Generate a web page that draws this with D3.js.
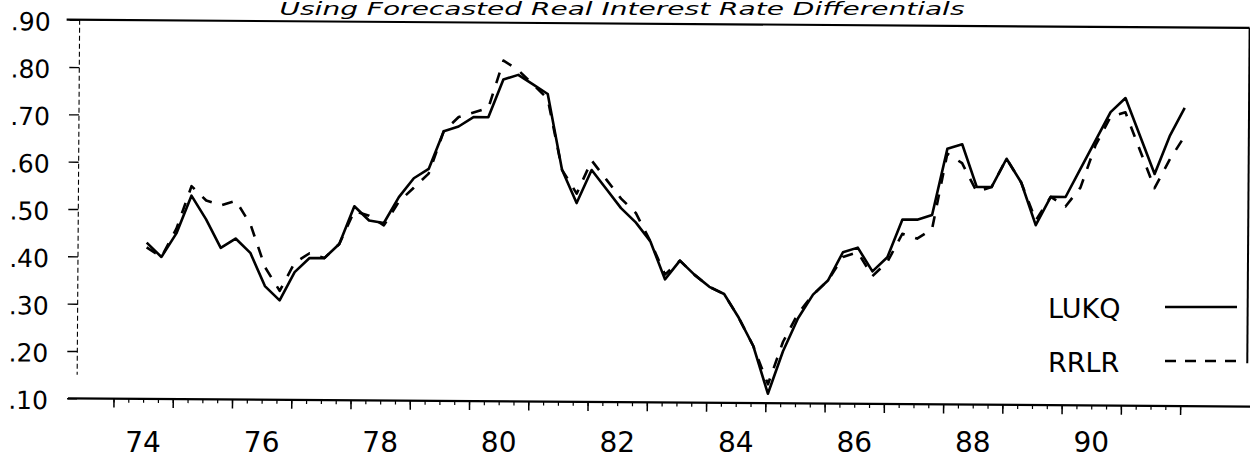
<!DOCTYPE html>
<html>
<head>
<meta charset="utf-8">
<script src="https://cdn.jsdelivr.net/npm/d3@7"></script>
<style>
  html, body { margin: 0; padding: 0; background: #ffffff; }
  svg { display: block; }
  text { font-family: "DejaVu Sans", "Liberation Sans", sans-serif; fill: #000; }
</style>
</head>
<body>
<svg id="chart" width="1250" height="458"></svg>
<script>
// ---------------- data ----------------
const titleText = "Using Forecasted Real Interest Rate Differentials";
const seriesNames = ["LUKQ", "RRLR"];
const firstYear = 1974;
const firstQuarter = 3;   // 1974 Q3 ... 1992 Q1 (quarterly)

const lukq = [
  0.43, 0.40,
  0.45, 0.53, 0.48, 0.42,
  0.44, 0.41, 0.34, 0.31,
  0.37, 0.40, 0.40, 0.43,
  0.51, 0.48, 0.475, 0.53,
  0.57, 0.59, 0.67, 0.68,
  0.70, 0.70, 0.78, 0.79,
  0.77, 0.75, 0.59, 0.52,
  0.59, 0.55, 0.51, 0.48,
  0.44, 0.36, 0.40, 0.37,
  0.345, 0.33, 0.28, 0.22,
  0.12, 0.21, 0.28, 0.33,
  0.36, 0.42, 0.43, 0.38,
  0.41, 0.49, 0.49, 0.50,
  0.64, 0.65, 0.56, 0.56,
  0.62, 0.57, 0.48, 0.54,
  0.54, 0.60, 0.66, 0.72,
  0.75, 0.67, 0.59, 0.67,
  0.73
];

const rrlr = [
  0.42, 0.40,
  0.46, 0.55, 0.52, 0.51,
  0.52, 0.47, 0.38, 0.33,
  0.39, 0.41, 0.40, 0.43,
  0.50, 0.49, 0.47, 0.52,
  0.55, 0.58, 0.67, 0.70,
  0.71, 0.72, 0.82, 0.80,
  0.77, 0.74, 0.59, 0.54,
  0.61, 0.57, 0.53, 0.50,
  0.44, 0.37, 0.40, 0.37,
  0.345, 0.33, 0.28, 0.22,
  0.14, 0.23, 0.29, 0.33,
  0.36, 0.41, 0.42, 0.37,
  0.40, 0.46, 0.45, 0.47,
  0.63, 0.61, 0.55, 0.56,
  0.62, 0.57, 0.49, 0.54,
  0.52, 0.56, 0.65, 0.71,
  0.72, 0.64, 0.56, 0.62,
  0.67
];

const yTickValues = [0.10, 0.20, 0.30, 0.40, 0.50, 0.60, 0.70, 0.80, 0.90];
const xLabelYears = [1974, 1976, 1978, 1980, 1982, 1984, 1986, 1988, 1990];
const xLabelText  = ["74", "76", "78", "80", "82", "84", "86", "88", "90"];
const yearTicks = d3.range(1974, 1993);
const quarterTicks = d3.range(1974, 1992.01, 0.25);

// ---------------- build ----------------
const svg = d3.select("#chart");

const x = d3.scaleLinear().domain([1974, 1992]).range([113.5, 113.5 + 18 * 59.26]);
const y = d3.scaleLinear().domain([0.10, 0.90]).range([398.3, 19.7]);

// quarterly time positions (mid of first month of quarter)
const tOf = i => {
  const q = firstQuarter - 1 + i;
  return firstYear + Math.floor(q / 4) + (q % 4) / 4 + 1 / 24;
};
const dataL = lukq.map((v, i) => ({ t: tOf(i), v }));
const dataR = rrlr.map((v, i) => ({ t: tOf(i), v }));

// title
svg.append("text")
  .attr("x", 622).attr("y", 14.5)
  .attr("text-anchor", "middle")
  .attr("font-size", 17)
  .attr("font-style", "italic")
  .attr("textLength", 685)
  .attr("lengthAdjust", "spacingAndGlyphs")
  .text(titleText);

// slightly rotated plotting group (scan skew)
const g = svg.append("g").attr("transform", "rotate(0.4, 70, 398)");

// y axis ticks + labels
const yAxis = d3.axisLeft(y)
  .tickValues(yTickValues)
  .tickSize(10)
  .tickPadding(19)
  .tickFormat(d => d3.format(".2f")(d).replace(/^0/, ""));
const ya = g.append("g").attr("transform", "translate(77,0)").call(yAxis);
ya.select(".domain").remove();
ya.selectAll(".tick line").attr("stroke", "#000").attr("stroke-width", 1.4);
ya.selectAll(".tick text")
  .attr("font-size", 25)
  .attr("font-family", "DejaVu Sans, sans-serif")
  .attr("dy", "0.42em");

// dotted left axis line
g.append("line")
  .attr("x1", 77).attr("x2", 77)
  .attr("y1", y(0.90)).attr("y2", y(0.15))
  .attr("stroke", "#000").attr("stroke-width", 1.1)
  .attr("stroke-dasharray", "5,3");

// top border
g.append("line")
  .attr("x1", 64).attr("x2", 1247)
  .attr("y1", y(0.90)).attr("y2", y(0.90))
  .attr("stroke", "#000").attr("stroke-width", 2.2);

// right border
g.append("line")
  .attr("x1", 1247).attr("x2", 1247)
  .attr("y1", y(0.90)).attr("y2", 355)
  .attr("stroke", "#000").attr("stroke-width", 2);

// bottom axis with yearly and quarterly ticks
const xMinor = d3.axisBottom(x).tickValues(quarterTicks).tickSize(4).tickFormat("");
const xMajor = d3.axisBottom(x).tickValues(yearTicks).tickSize(9).tickFormat("");
const xm = g.append("g").attr("transform", `translate(0,${y(0.10)})`).call(xMinor);
xm.select(".domain").remove();
xm.selectAll(".tick line").attr("stroke", "#000").attr("stroke-width", 1.2);
const xM = g.append("g").attr("transform", `translate(0,${y(0.10)})`).call(xMajor);
xM.select(".domain").remove();
xM.selectAll(".tick line").attr("stroke", "#000").attr("stroke-width", 1.5);
g.append("line")
  .attr("x1", 68).attr("x2", 1256)
  .attr("y1", y(0.10)).attr("y2", y(0.10))
  .attr("stroke", "#000").attr("stroke-width", 2.2);

// series lines
const line = d3.line().x(d => x(d.t)).y(d => y(d.v));
g.append("path").datum(dataR)
  .attr("d", line)
  .attr("fill", "none").attr("stroke", "#000")
  .attr("stroke-width", 2.6)
  .attr("stroke-dasharray", "11,11")
  .attr("stroke-linejoin", "round");
g.append("path").datum(dataL)
  .attr("d", line)
  .attr("fill", "none").attr("stroke", "#000")
  .attr("stroke-width", 2.6)
  .attr("stroke-linejoin", "round");

// x labels (centred in the middle of each labelled year)
svg.selectAll("text.xlab").data(xLabelYears)
  .enter().append("text")
  .attr("class", "xlab")
  .attr("x", d => x(d + 0.5))
  .attr("y", 452)
  .attr("text-anchor", "middle")
  .attr("font-size", 28)
  .text((d, i) => xLabelText[i]);

// legend
const legendRows = [
  { name: seriesNames[0], ty: 318, ly: 307, dash: null },
  { name: seriesNames[1], ty: 372, ly: 361, dash: "11,9" }
];
legendRows.forEach(r => {
  svg.append("text")
    .attr("x", 1048).attr("y", r.ty)
    .attr("font-size", 27)
    .text(r.name);
  const l = svg.append("line")
    .attr("x1", 1165).attr("x2", 1237)
    .attr("y1", r.ly).attr("y2", r.ly)
    .attr("stroke", "#000").attr("stroke-width", 2.6);
  if (r.dash) l.attr("stroke-dasharray", r.dash);
});
</script>
</body>
</html>
